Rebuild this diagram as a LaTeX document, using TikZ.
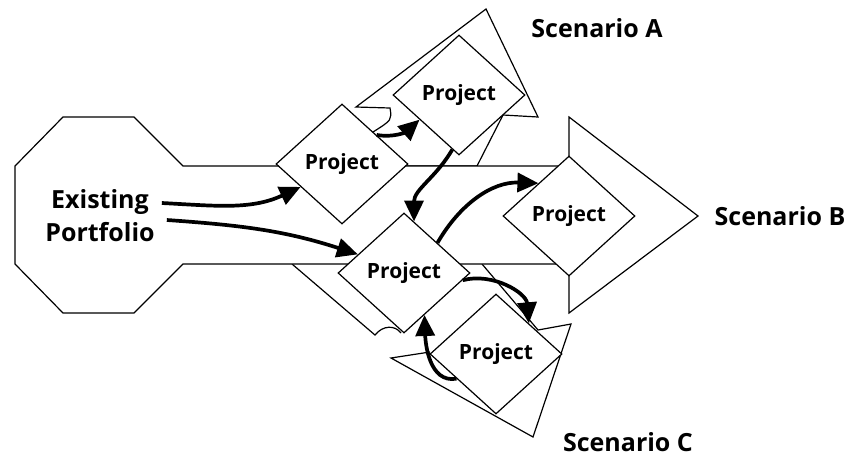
\documentclass[tikz,border=0pt]{standalone}
\usepackage{fontspec}
\setmainfont{Open Sans}
\usetikzlibrary{arrows.meta, positioning, shapes.geometric, calc}

\begin{document}
\begin{tikzpicture}[x=1pt, y=-1pt,
    outline/.style={draw=black, line width=1.2pt, fill=white},
    edge/.style={draw=black, line width=1.2pt},
    project/.style={diamond, draw=black, line width=1.2pt, fill=white,
        minimum width=132pt, minimum height=120pt, inner sep=0pt,
        font=\fontsize{21}{21}\selectfont\bfseries},
    flow/.style={line width=3.7pt, -{Triangle[length=21pt, width=19pt]}},
    bigtext/.style={font=\fontsize{25}{33}\selectfont\bfseries, align=center, inner sep=1pt}
]
    \useasboundingbox (0,0) rectangle (847,456);

    % Scenario A branch
    \draw[outline] (477,166) -- (503,115) -- (538,117) -- (486,9) -- (356,107)
        -- (390,108) .. controls (392,120) .. (373,132) -- (350,166) -- cycle;

    % Scenario C branch
    \fill[white] (292,264) -- (375,335) -- (399,331) -- (420,353) -- (391,358)
        -- (533,437) -- (571,324) -- (538,330) -- (482,264) -- cycle;
    \draw[edge] (292,264) -- (375,335) .. controls (383,325) and (395,325) .. (401,333);
    \draw[edge] (430,352) -- (391,358) -- (533,437) -- (571,324) -- (538,330) -- (482,264);

    % Portfolio, trunk and Scenario B
    \draw[outline] (63,117) -- (134,117) -- (183,166) -- (569,166) -- (569,117)
        -- (698,216) -- (569,313) -- (569,264) -- (183,264) -- (134,313)
        -- (63,313) -- (15,264) -- (15,166) -- cycle;

    % Projects
    \node[project] (p1) at (342,164) {Project};
    \node[project] (pa) at (459,95) {Project};
    \node[project] (p2) at (404,273) {Project};
    \node[project] (pb) at (569,216) {Project};
    \node[project] (pc) at (496,354) {Project};

    % Labels
    \node[bigtext] (ep) at (100,216) {Existing\\Portfolio};
    \node[bigtext, anchor=base] (sa) at (597,37) {Scenario A};
    \node[bigtext, anchor=base] (sb) at (780,225) {Scenario B};
    \node[bigtext, anchor=base] (sc) at (628,451) {Scenario C};

    % Moves between projects
    \draw[flow] ([xshift=6pt, yshift=13pt]ep.east) to[out=-3, in=205] (p1.209);
    \draw[flow] ([xshift=11pt, yshift=-4pt]ep.east) to[out=-4, in=162] (p2.158);
    \draw[flow] (p1.40) to[out=-10, in=222] (pa.212);
    \draw[flow] (pa.263) to[out=240, in=90] (p2.79);
    \draw[flow] (p2.42) to[out=60, in=178] (pb.133);
    \draw[flow] (p2.353) to[out=15, in=95] (pc.43);
    \draw[flow] (pc.212) to[out=190, in=-88] (p2.296);
\end{tikzpicture}
\end{document}
